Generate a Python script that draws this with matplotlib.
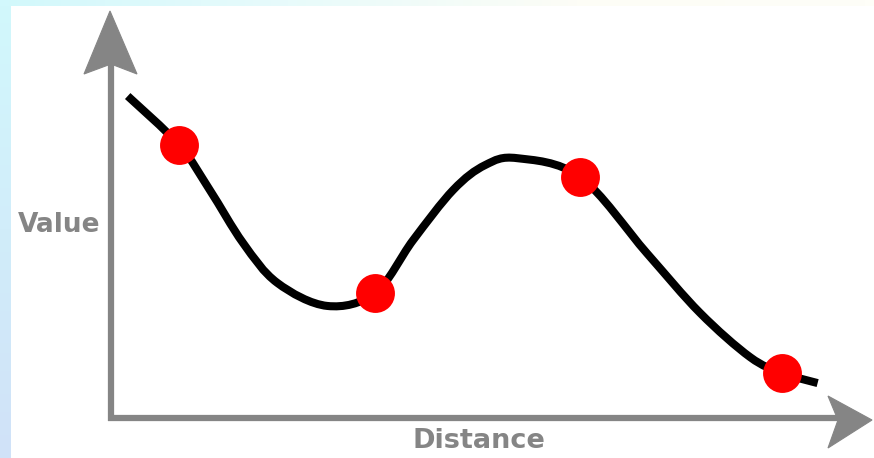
import numpy as np
import matplotlib
matplotlib.use("Agg")
import matplotlib.pyplot as plt
from matplotlib.patches import Polygon, PathPatch
from matplotlib.path import Path
from matplotlib.colors import LinearSegmentedColormap

# ---- data ----
curve_distance = [2.2, 9.0, 13.0, 17.4, 21.9, 28.5, 34.8, 39.8, 45.1, 49.3, 53.5,
                  61.8, 70.6, 77.6, 84.2, 88.4, 93.1]
curve_value = [79.3, 67.2, 56.2, 43.1, 33.3, 27.6, 30.8, 43.8, 56.2, 62.3, 64.0,
               59.4, 40.6, 25.9, 15.0, 11.1, 8.6]
point_distance = [9.0, 34.8, 61.8, 88.4]
point_value = [67.2, 30.8, 59.4, 11.1]
x_label = "Distance"
y_label = "Value"

W, H = 874, 458
fig = plt.figure(figsize=(W / 100, H / 100), dpi=100)
fig.patch.set_facecolor("white")

# background decoration (overlay in pixel units)
bg = fig.add_axes([0, 0, 1, 1])
bg.axis("off")
grad_v = np.linspace(0, 1, 100)[:, None]
cm_left = LinearSegmentedColormap.from_list("l", ["#d2f8fc", "#d0e2f8"])
bg.imshow(grad_v, extent=[0, 11, H, 0], cmap=cm_left, aspect="auto", zorder=0)
grad_h = np.linspace(0, 1, 100)[None, :]
cm_top = LinearSegmentedColormap.from_list("t", ["#d2f8fc", "#e8fbfb", "#fdfdf6", "#fefef8"])
bg.imshow(grad_h, extent=[0, W, 6, 0], cmap=cm_top, aspect="auto", zorder=0)
bg.set_xlim(0, W)
bg.set_ylim(H, 0)

gray = "#858585"
# vertical axis arrow
bg.plot([111, 111], [421, 62], color=gray, lw=4.5, solid_capstyle="butt", zorder=2)
bg.add_patch(Polygon([[110, 11], [137, 74], [111, 64], [84, 74]], closed=True,
                     facecolor=gray, edgecolor=gray, lw=0.8, zorder=2))
# horizontal axis arrow
bg.plot([108, 862], [418, 418], color=gray, lw=4.5, solid_capstyle="butt", zorder=2)
bg.add_patch(Polygon([[872, 420], [828, 448], [838, 420], [828, 396]], closed=True,
                     facecolor=gray, edgecolor=gray, lw=0.8, zorder=2))

bg.text(59, 225, y_label, color=gray, fontsize=19, fontweight="bold",
        ha="center", va="center", family="DejaVu Sans")
bg.text(479, 441, x_label, color=gray, fontsize=19.5, fontweight="bold",
        ha="center", va="center", family="DejaVu Sans")

# data axes: origin at the arrows' corner
left, right, bottom_px, top_px = 111, 870, 418, 12
ax = fig.add_axes([left / W, (H - bottom_px) / H, (right - left) / W,
                   (bottom_px - top_px) / H])
ax.set_xlim(0, 100)
ax.set_ylim(0, 100)
ax.patch.set_alpha(0)
ax.axis("off")

# smooth rendering of the read curve points (Catmull-Rom -> cubic Bezier)
P = np.column_stack([curve_distance, curve_value])
verts = [P[0]]
codes = [Path.MOVETO]
n = len(P)
for i in range(n - 1):
    p0 = P[i - 1] if i > 0 else P[i]
    p1 = P[i]
    p2 = P[i + 1]
    p3 = P[i + 2] if i + 2 < n else P[i + 1]
    c1 = p1 + (p2 - p0) / 6.0
    c2 = p2 - (p3 - p1) / 6.0
    verts += [c1, c2, p2]
    codes += [Path.CURVE4] * 3
ax.add_patch(PathPatch(Path(verts, codes), facecolor="none", edgecolor="black",
                       lw=5.8, capstyle="butt", joinstyle="round", zorder=3))
ax.plot(point_distance, point_value, "o", color="#ff0000", markersize=28,
        markeredgewidth=0, zorder=4)

fig.savefig("out.png", dpi=100)
